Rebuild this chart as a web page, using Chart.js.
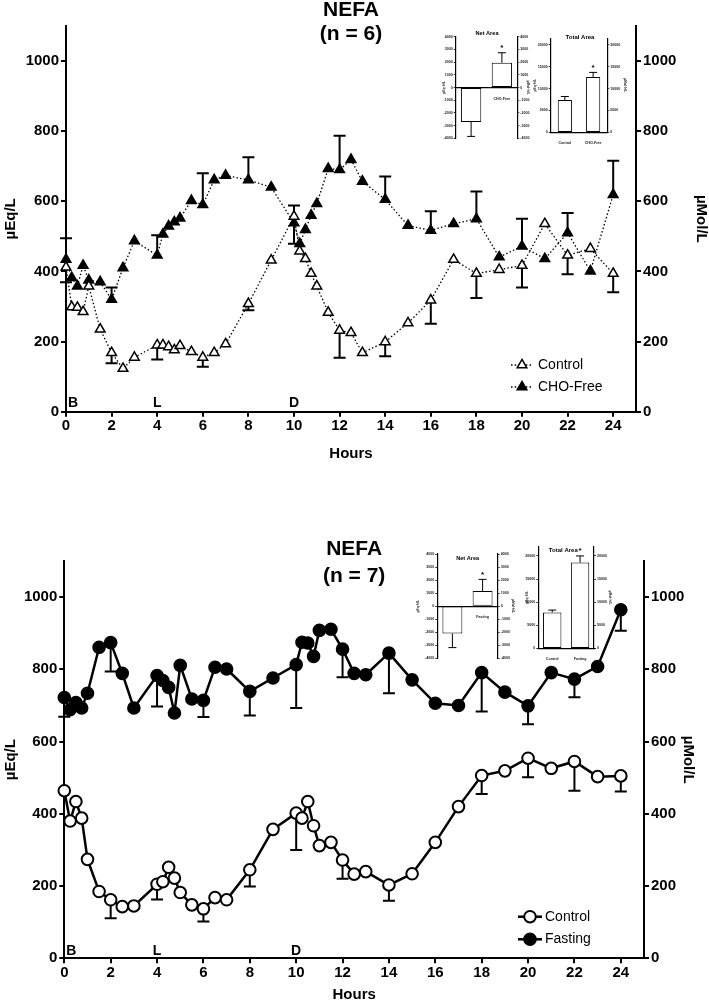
<!DOCTYPE html>
<html>
<head>
<meta charset="utf-8">
<script src="https://cdn.jsdelivr.net/npm/chart.js@4.4.0/dist/chart.umd.min.js"></script>
<style>
body { margin: 0; background: #fff; }
#wrap { position: relative; width: 709px; height: 1002px; background: #fff; overflow: hidden; }
canvas { position: absolute; }
</style>
</head>
<body>
<div id="wrap">
  <canvas id="topMain" width="709" height="480" style="left:0px;top:0px"></canvas>
  <canvas id="topNet" width="120" height="123" style="left:425px;top:25px"></canvas>
  <canvas id="topTotal" width="115" height="123" style="left:520px;top:25px"></canvas>
  <canvas id="botMain" width="709" height="512" style="left:0px;top:490px"></canvas>
  <canvas id="botNet" width="120" height="128" style="left:407px;top:540px"></canvas>
  <canvas id="botTotal" width="116" height="133" style="left:508px;top:535px"></canvas>
</div>
<script>
// ---- data ----
const hours = [0, 0.25, 0.5, 0.75, 1, 1.5, 2, 2.5, 3, 4, 4.25, 4.5, 4.75, 5, 5.5, 6, 6.5, 7, 8, 9,
  10, 10.25, 10.5, 10.75, 11, 11.5, 12, 12.5, 13, 14, 15, 16, 17, 18, 19, 20, 21, 22, 23, 24];
const errHours = [0, 2, 4, 6, 8, 10, 12, 14, 16, 18, 20, 22, 24];

// top panel: Control vs CHO-Free (n = 6)
const controlTop = [412, 299, 297, 285, 358, 235, 168, 123, 155, 190, 190, 185, 176, 188, 171, 155, 168, 193, 308, 432,
  557, 458, 436, 394, 358, 283, 232, 225, 168, 199, 253, 318, 434, 394, 405, 417, 536, 446, 465, 394];
const choFree = [434, 382, 358, 417, 375, 370, 320, 410, 487, 446, 506, 529, 541, 552, 602, 590, 661, 674, 661, 640,
  538, 479, 519, 560, 593, 693, 690, 719, 657, 605, 531, 517, 536, 550, 441, 472, 436, 510, 401, 619];
const controlTopErr = [-43, -30, -41, -27, -19, 31, -78, -41, -67, -70, -63, -54, -53];
const choFreeErr = [61, 34, 57, 90, 65, -59, 97, 66, 55, 78, 78, 57, 97];

// bottom panel: Control vs Fasting (n = 7)
const controlBot = [464, 380, 434, 388, 274, 185, 162, 143, 145, 205, 212, 252, 222, 182, 148, 137, 168, 162, 245, 357,
  402, 388, 434, 367, 312, 321, 272, 233, 240, 203, 234, 321, 420, 506, 519, 554, 526, 545, 503, 505];
const fasting = [722, 688, 708, 693, 734, 861, 874, 789, 693, 783, 769, 750, 679, 811, 718, 714, 806, 801, 739, 776,
  813, 875, 873, 836, 908, 911, 856, 789, 785, 845, 771, 706, 700, 791, 737, 699, 791, 773, 808, 965];
const controlBotErr = [null, -51, -42, -35, -46, -102, -52, -44, null, -51, -53, -81, -43];
const fastingErr = [-53, -80, -86, -46, -67, -120, -78, -111, null, -108, -51, -50, -58];

const mealHours = [0, 4, 10];
const mealLabels = ['B', 'L', 'D'];
const yTicks = [0, 200, 400, 600, 800, 1000];
const xTicks = [0, 2, 4, 6, 8, 10, 12, 14, 16, 18, 20, 22, 24];

// insets
const topInsetLabels = ['Control', 'CHO-Free'];
const topNetArea = [-2710, 1945];
const topNetErr = [-1140, 790];
const topTotalArea = [7360, 12640];
const topTotalErr = [830, 1060];
const botInsetLabels = ['Control', 'Fasting'];
const botNetArea = [-2100, 1154];
const botNetErr = [-1080, 900];
const botTotalArea = [7775, 18570];
const botTotalErr = [500, 1430];
const starFlags = [false, true];
const netTicks = [-4000, -3000, -2000, -1000, 0, 1000, 2000, 3000, 4000];
const totalTicks = [0, 5000, 10000, 15000, 20000];

// ---- setup ----
const FONT = '"Liberation Sans", Arial, Helvetica, sans-serif';
Chart.defaults.font.family = FONT;
Chart.defaults.color = '#000';
Chart.defaults.animation = false;

function points(xs, ys) {
  return xs.map((x, i) => ({ x: x, y: ys[i] }));
}

function errorsFor(xs, eh, ev) {
  return xs.map(x => {
    const k = eh.indexOf(x);
    return k >= 0 ? ev[k] : null;
  });
}

function drawMarker(ctx, style, x, y, r, fill, lw) {
  ctx.beginPath();
  if (style === 'triangle') {
    for (let k = 0; k < 3; k++) {
      const a = -Math.PI / 2 + k * 2 * Math.PI / 3;
      const px = x + Math.cos(a) * r, py = y + Math.sin(a) * r;
      if (k === 0) ctx.moveTo(px, py); else ctx.lineTo(px, py);
    }
    ctx.closePath();
  } else {
    ctx.arc(x, y, r, 0, Math.PI * 2);
  }
  ctx.fillStyle = fill;
  ctx.fill();
  ctx.lineWidth = lw;
  ctx.strokeStyle = '#000';
  ctx.stroke();
}

const annot = {
  id: 'annot',
  beforeDatasetsDraw(chart, args, opts) {
    const ctx = chart.ctx;
    chart.data.datasets.forEach((ds, di) => {
      if (!ds.errors) return;
      const meta = chart.getDatasetMeta(di);
      const ys = chart.scales[meta.yAxisID];
      ctx.save();
      ctx.strokeStyle = '#000';
      ctx.lineWidth = opts.errWidth || 2;
      ds.errors.forEach((e, i) => {
        if (e == null) return;
        const el = meta.data[i];
        const raw = ds.data[i];
        const v = typeof raw === 'object' ? raw.y : raw;
        const yEnd = ys.getPixelForValue(v + e);
        const cap = opts.capHalf || 5;
        ctx.beginPath();
        ctx.moveTo(el.x, el.y);
        ctx.lineTo(el.x, yEnd);
        ctx.moveTo(el.x - cap, yEnd);
        ctx.lineTo(el.x + cap, yEnd);
        ctx.stroke();
        if (ds.stars && ds.stars[i]) {
          ctx.fillStyle = '#000';
          ctx.font = 'bold ' + (opts.starSize || 7) + 'px ' + FONT;
          ctx.textAlign = 'center';
          ctx.textBaseline = 'bottom';
          ctx.fillText('*', el.x, yEnd + (e > 0 ? -1 : 1));
        }
      });
      ctx.restore();
    });
  },
  afterDraw(chart, args, opts) {
    const ctx = chart.ctx;
    const area = chart.chartArea;
    ctx.save();
    ctx.fillStyle = '#000';
    // titles
    (opts.titles || []).forEach(t => {
      ctx.font = t.font + ' ' + FONT;
      ctx.textAlign = 'center';
      ctx.textBaseline = 'middle';
      const cx = t.x != null ? t.x : (area.left + area.right) / 2;
      ctx.fillText(t.text, cx, t.y);
    });
    // meal markers
    if (opts.meals) {
      const xs = chart.scales.x;
      ctx.font = opts.meals.font + ' ' + FONT;
      ctx.textAlign = 'center';
      ctx.textBaseline = 'middle';
      mealHours.forEach((h, i) => {
        const w = ctx.measureText(mealLabels[i]).width;
        const px = Math.max(xs.getPixelForValue(h), area.left + w / 2 + 2);
        ctx.fillText(mealLabels[i], px, area.bottom - opts.meals.dy);
      });
    }
    // legend
    if (opts.legend) {
      const L = opts.legend;
      chart.data.datasets.forEach((ds, i) => {
        const y = L.rows[i];
        ctx.save();
        ctx.strokeStyle = '#000';
        ctx.lineWidth = ds.borderWidth;
        ctx.setLineDash(ds.borderDash || []);
        ctx.beginPath();
        ctx.moveTo(L.x0, y);
        ctx.lineTo(L.x1, y);
        ctx.stroke();
        ctx.setLineDash([]);
        drawMarker(ctx, ds.pointStyle, L.mx, y, ds.pointRadius, ds.pointBackgroundColor, ds.pointBorderWidth);
        ctx.restore();
        ctx.fillStyle = '#000';
        ctx.font = L.font + ' ' + FONT;
        ctx.textAlign = 'left';
        ctx.textBaseline = 'middle';
        ctx.fillText(ds.label, L.tx, y);
      });
    }
    ctx.restore();
  }
};

function mainChart(id, g, sets) {
  const tickFont = { size: 15, weight: 'bold' };
  const titleFont = { size: 15, weight: 'bold', lineHeight: 1 };
  const yAxis = (pos, width, text, pad) => ({
    type: 'linear', position: pos, min: 0, max: 1100,
    ticks: { stepSize: 200, font: tickFont, color: '#000', padding: 2, callback: v => String(v) },
    afterBuildTicks: s => { s.ticks = yTicks.map(v => ({ value: v })); },
    afterFit: s => { s.width = width; },
    grid: { drawOnChartArea: false, tickLength: 5, lineWidth: 2, color: '#000' },
    border: { color: '#000', width: 2 },
    title: { display: true, text: text, font: titleFont, color: '#000', padding: { top: pad, bottom: 0 } }
  });
  return new Chart(document.getElementById(id), {
    type: 'line',
    data: { datasets: sets },
    options: {
      responsive: false,
      events: [],
      layout: { padding: { top: g.padTop, left: 0, right: 0, bottom: 0 } },
      scales: {
        x: {
          type: 'linear', min: 0, max: 25,
          ticks: { stepSize: 2, font: tickFont, color: '#000', padding: g.xPad, maxRotation: 0 },
          afterBuildTicks: s => { s.ticks = xTicks.map(v => ({ value: v })); },
          afterFit: s => { s.height = g.xH; },
          grid: { drawOnChartArea: false, tickLength: 5, lineWidth: 2, color: '#000' },
          border: { color: '#000', width: 2 },
          title: { display: true, text: 'Hours', font: titleFont, color: '#000', padding: { top: 0, bottom: g.xTitlePad } }
        },
        y: yAxis('left', g.leftW, 'µEq/L', 3),
        y2: yAxis('right', g.rightW, 'µMol/L', g.rightTitlePad)
      },
      plugins: {
        legend: { display: false },
        tooltip: { enabled: false },
        annot: {
          errWidth: 2, capHalf: 6,
          titles: g.titles,
          meals: { font: 'bold 14px', dy: g.mealDy },
          legend: g.legend
        }
      }
    },
    plugins: [annot]
  });
}

function insetChart(id, g, labels, values, errs) {
  const tiny = { size: 3.6, weight: 'bold' };
  const tickList = g.net ? netTicks : totalTicks;
  const yAxis = (pos, width, text, pad) => ({
    type: 'linear', position: pos, min: g.min, max: g.max,
    ticks: { font: tiny, color: '#222', padding: 1, callback: v => String(v) },
    afterBuildTicks: s => { s.ticks = tickList.map(v => ({ value: v })); },
    afterFit: s => { s.width = width; },
    grid: { drawOnChartArea: false, tickLength: 2, lineWidth: 0.8, color: '#000' },
    border: { color: '#000', width: 1.2 },
    title: { display: true, text: text, font: { size: 3.4, weight: 'bold', lineHeight: 1 }, color: '#222', padding: { top: pad, bottom: 0 } }
  });
  const x = {
    type: 'category',
    ticks: { font: tiny, color: '#222', padding: 1, maxRotation: 0 },
    grid: { display: false },
    border: { color: '#000', width: 1.2 }
  };
  if (g.net) {
    x.position = { y: 0 };
    x.z = 1;
  } else {
    x.position = 'bottom';
    x.afterFit = s => { s.height = g.xH; };
  }
  return new Chart(document.getElementById(id), {
    type: 'bar',
    data: {
      labels: labels,
      datasets: [{
        data: values, errors: errs, stars: starFlags,
        backgroundColor: '#fff', borderColor: '#000', borderWidth: 1, borderSkipped: false,
        barPercentage: g.barPct, categoryPercentage: 1
      }]
    },
    options: {
      responsive: false,
      events: [],
      layout: { padding: { top: g.padTop, bottom: g.padBottom || 0, left: 0, right: 0 } },
      scales: {
        x: x,
        y: yAxis('left', g.leftW, 'µEq·h/L', g.lTitlePad),
        y2: yAxis('right', g.rightW, 'µMol·h/L', g.rTitlePad)
      },
      plugins: {
        legend: { display: false },
        tooltip: { enabled: false },
        annot: {
          errWidth: 1, capHalf: 4, starSize: 8,
          titles: [{ text: g.title, y: g.titleY, x: g.titleX, font: 'bold ' + g.titleSize + 'px' }]
        }
      }
    },
    plugins: [annot]
  });
}

// ---- top panel ----
mainChart('topMain', {
  padTop: 26, xH: 68.3, xPad: 0, xTitlePad: 18.5, leftW: 66, rightW: 73, rightTitlePad: 0, mealDy: 8.4,
  titles: [{ text: 'NEFA', y: 10, font: 'bold 21px' }, { text: '(n = 6)', y: 34, font: 'bold 21px' }],
  legend: { x0: 511, x1: 533, mx: 522, tx: 538, rows: [365, 387], font: '14px' }
}, [
  {
    label: 'Control', data: points(hours, controlTop), errors: errorsFor(hours, errHours, controlTopErr),
    borderColor: '#000', borderWidth: 1.3, borderDash: [1.5, 2.2], fill: false, tension: 0, clip: false,
    pointStyle: 'triangle', pointRadius: 5.6, pointBackgroundColor: '#fff', pointBorderColor: '#000', pointBorderWidth: 1.5
  },
  {
    label: 'CHO-Free', data: points(hours, choFree), errors: errorsFor(hours, errHours, choFreeErr),
    borderColor: '#000', borderWidth: 1.3, borderDash: [1.5, 2.2], fill: false, tension: 0, clip: false,
    pointStyle: 'triangle', pointRadius: 5.6, pointBackgroundColor: '#000', pointBorderColor: '#000', pointBorderWidth: 1.5
  }
]);

insetChart('topNet', {
  net: true, min: -4000, max: 4000, barPct: 0.66,
  padTop: 11.7, padBottom: 9.7, leftW: 30.7, rightW: 27.7, lTitlePad: 17, rTitlePad: 15,
  title: 'Net Area', titleY: 8, titleX: 62, titleSize: 5.6
}, topInsetLabels, topNetArea, topNetErr);

insetChart('topTotal', {
  net: false, min: 0, max: 21500, barPct: 0.5, xH: 15.7,
  padTop: 13.3, leftW: 30.7, rightW: 27.7, lTitlePad: 13, rTitlePad: 8,
  title: 'Total Area', titleY: 12, titleX: 60, titleSize: 6
}, topInsetLabels, topTotalArea, topTotalErr);

// ---- bottom panel ----
mainChart('botMain', {
  padTop: 71, xH: 43.7, xPad: 1, xTitlePad: 0, leftW: 64.3, rightW: 65, rightTitlePad: 13.5, mealDy: 7.3,
  titles: [{ text: 'NEFA', y: 59, font: 'bold 21px' }, { text: '(n = 7)', y: 86, font: 'bold 21px' }],
  legend: { x0: 518, x1: 542, mx: 530, tx: 545, rows: [426.7, 449.3], font: '14px' }
}, [
  {
    label: 'Control', data: points(hours, controlBot), errors: errorsFor(hours, errHours, controlBotErr),
    borderColor: '#000', borderWidth: 2.5, fill: false, tension: 0, clip: false,
    pointStyle: 'circle', pointRadius: 5.8, pointBackgroundColor: '#fff', pointBorderColor: '#000', pointBorderWidth: 2
  },
  {
    label: 'Fasting', data: points(hours, fasting), errors: errorsFor(hours, errHours, fastingErr),
    borderColor: '#000', borderWidth: 2.5, fill: false, tension: 0, clip: false,
    pointStyle: 'circle', pointRadius: 5.8, pointBackgroundColor: '#000', pointBorderColor: '#000', pointBorderWidth: 2
  }
]);

insetChart('botNet', {
  net: true, min: -4000, max: 4000, barPct: 0.66,
  padTop: 14, padBottom: 9.7, leftW: 30.3, rightW: 29.3, lTitlePad: 9, rTitlePad: 12,
  title: 'Net Area', titleY: 18.3, titleX: 60.7, titleSize: 5.6
}, botInsetLabels, botNetArea, botNetErr);

insetChart('botTotal', {
  net: false, min: 0, max: 22000, barPct: 0.66, xH: 19.7,
  padTop: 11.7, leftW: 30.3, rightW: 30, lTitlePad: 17, rTitlePad: 12,
  title: 'Total Area', titleY: 15, titleX: 55.3, titleSize: 6
}, botInsetLabels, botTotalArea, botTotalErr);
</script>
</body>
</html>
